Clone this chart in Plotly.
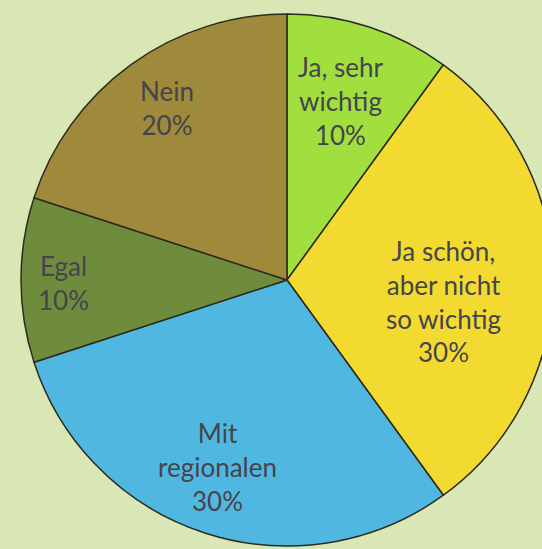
import plotly.graph_objects as go

labels = ["Ja, sehr<br>wichtig", "Ja schön,<br>aber nicht<br>so wichtig", "Mit<br>regionalen", "Egal", "Nein"]
values = [10, 30, 30, 10, 20]
colors = ["#a0df3e", "#f3da30", "#50b8e0", "#6f8c3c", "#9e8a3a"]

W, H = 556, 549
# label centre positions in pixels (style only)
label_px = [(340, 101), (443, 301), (217, 467), (63, 283), (167, 108)]

total = sum(values)

fig = go.Figure(go.Pie(
    labels=labels,
    values=values,
    sort=False,
    direction="clockwise",
    rotation=0,
    marker=dict(colors=colors, line=dict(color="#2b2b22", width=1.5)),
    textinfo="none",
    hoverinfo="label+percent",
    domain=dict(x=[21 / W, 553 / W], y=[1 - 546 / H, 1 - 14 / H]),
    showlegend=False,
))

for lab, v, (px, py) in zip(labels, values, label_px):
    fig.add_annotation(
        x=px / W, y=1 - py / H, xref="paper", yref="paper",
        text=f"{lab}<br>{round(100 * v / total)}%",
        showarrow=False, xanchor="center", yanchor="middle", align="center",
        font=dict(family="Lato, Open Sans, sans-serif", size=26, color="#45444c"),
    )

fig.update_layout(
    width=W, height=H,
    margin=dict(l=0, r=0, t=0, b=0),
    paper_bgcolor="#d8e7b3",
    plot_bgcolor="#d8e7b3",
)

fig.write_html(
    "out.html",
    config={"displayModeBar": False},
    post_script="document.documentElement.style.margin='0';document.body.style.margin='0';"
                "document.documentElement.style.overflow='hidden';document.body.style.overflow='hidden';"
                "document.body.style.background='#d8e7b3';",
)
